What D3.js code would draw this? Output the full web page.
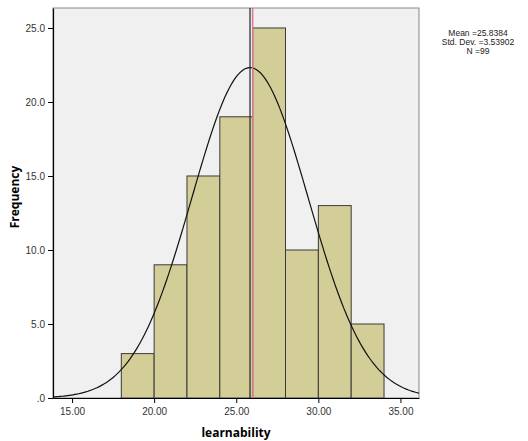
<!DOCTYPE html>
<html>
<head>
<meta charset="utf-8">
<script src="https://cdn.jsdelivr.net/npm/d3@7"></script>
<style>
  body { margin: 0; background: #fff; }
  text { font-family: "Liberation Sans", Arial, sans-serif; }
</style>
</head>
<body>
<div id="chart"></div>
<script>
// histogram bins (lower edge, upper edge) and counts
const binStarts = [18, 20, 22, 24, 26, 28, 30, 32];
const binWidth = 2;
const counts = [3, 9, 15, 19, 25, 10, 13, 5];
const xTicks = [15, 20, 25, 30, 35];
const yTicks = [0, 5, 10, 15, 20, 25];
const mean = 25.8384, sd = 3.53902, n = 99;
const refLine = 26;

let margin = {top: 8, right: 109, bottom: 43, left: 53},
    width = 528 - margin.left - margin.right,
    height = 441 - margin.top - margin.bottom;

let svg = d3.select("#chart")
  .append("svg")
    .attr("width", 528)
    .attr("height", 441)
  .append("g")
    .attr("transform", `translate(${margin.left}, ${margin.top})`);

const x = d3.scaleLinear().domain([13.84, 36.13]).range([0, width]);
const y = d3.scaleLinear().domain([0, 26.35]).range([height, 0]);

// plot background
svg.append("rect")
  .attr("width", width).attr("height", height)
  .attr("fill", "#f0f0f0")
  .attr("stroke", "#888").attr("stroke-width", 1);

// bars
svg.selectAll(".bar")
  .data(binStarts.map((s, i) => ({s, c: counts[i]})))
  .join("rect")
    .attr("class", "bar")
    .attr("x", d => x(d.s))
    .attr("y", d => y(d.c))
    .attr("width", d => x(d.s + binWidth) - x(d.s))
    .attr("height", d => y(0) - y(d.c))
    .attr("fill", "#d3ce97")
    .attr("stroke", "#3a3a3a")
    .attr("stroke-width", 1);

// normal curve
const xs = d3.range(0, 201).map(i => x.domain()[0] + i * (x.domain()[1] - x.domain()[0]) / 200);
const normal = v => n * binWidth / (sd * Math.sqrt(2 * Math.PI)) * Math.exp(-0.5 * ((v - mean) / sd) ** 2);
svg.append("path")
  .datum(xs)
  .attr("fill", "none")
  .attr("stroke", "#111")
  .attr("stroke-width", 1.2)
  .attr("d", d3.line().x(d => x(d)).y(d => y(normal(d))));

// reference lines
svg.append("line")
  .attr("x1", x(mean)).attr("x2", x(mean))
  .attr("y1", 0).attr("y2", height)
  .attr("stroke", "#222").attr("stroke-width", 1.2);
svg.append("line")
  .attr("x1", x(refLine)).attr("x2", x(refLine))
  .attr("y1", 0).attr("y2", height)
  .attr("stroke", "#d9779a").attr("stroke-width", 1.5);

// axes
const xAxis = svg.append("g")
  .attr("transform", `translate(0, ${height})`)
  .call(d3.axisBottom(x).tickValues(xTicks).tickFormat(d3.format(".2f")).tickSize(5).tickSizeOuter(0));
const yAxis = svg.append("g")
  .call(d3.axisLeft(y).tickValues(yTicks).tickFormat(d => d === 0 ? ".0" : d3.format(".1f")(d)).tickSize(5).tickSizeOuter(0));
[xAxis, yAxis].forEach(a => {
  a.select(".domain").attr("stroke", "#000").attr("stroke-width", 1.2);
  a.selectAll(".tick line").attr("stroke", "#000");
  a.selectAll(".tick text").attr("fill", "#333").style("font-size", "10px")
    .style("font-family", "Liberation Sans, Arial, sans-serif");
});
xAxis.selectAll(".tick text").attr("dy", "0.9em");

// axis titles
svg.append("text")
  .attr("text-anchor", "middle")
  .attr("x", width / 2)
  .attr("y", height + 39)
  .style("font-family", "Open Sans, sans-serif")
  .style("font-weight", "bold")
  .style("font-size", "12px")
  .text("learnability");

svg.append("text")
  .attr("text-anchor", "middle")
  .attr("transform", `translate(${-34}, ${height / 2 - 6}) rotate(-90)`)
  .style("font-family", "Open Sans, sans-serif")
  .style("font-weight", "bold")
  .style("font-size", "12px")
  .text("Frequency");

// stats legend
const stats = [`Mean =${mean}`, `Std. Dev. =${sd}`, `N =${n}`];
svg.append("g")
  .selectAll("text")
  .data(stats)
  .join("text")
    .attr("text-anchor", "middle")
    .attr("x", 478 - margin.left)
    .attr("y", (d, i) => 36 - margin.top + i * 9)
    .attr("fill", "#222")
    .style("font-size", "8.5px")
    .text(d => d);
</script>
</body>
</html>
